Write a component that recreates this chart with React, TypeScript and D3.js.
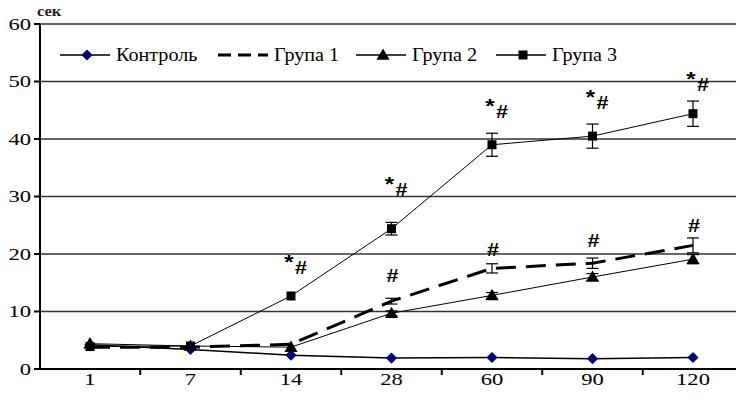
import { useEffect, useRef } from "react";
import * as d3 from "d3";

const days = ["1", "7", "14", "28", "60", "90", "120"];
const yTicks = [0, 10, 20, 30, 40, 50, 60];

const control = [4.2, 3.4, 2.4, 1.9, 2.0, 1.8, 2.0];
const group1 = [3.8, 3.8, 4.3, 11.8, 17.5, 18.4, 21.5];
const group1Err = [0, 0, 0, 0.5, 0.8, 0.9, 1.3];
const group2 = [4.4, 4.0, 3.8, 9.7, 12.8, 16.0, 19.1];
const group2Err = [0, 0, 0, 0.4, 0.5, 0.6, 0.8];
const group3 = [3.9, 4.0, 12.7, 24.4, 39.0, 40.5, 44.4];
const group3Err = [0, 0, 0, 1.1, 2.0, 2.1, 2.2];

// significance marks: "*#" over group 3, "#" over group 1 (label height in seconds)
const starHashDays = ["14", "28", "60", "90", "120"];
const starHashY = [17.6, 31.1, 44.7, 46.3, 49.4];
const hashDays = ["28", "60", "90", "120"];
const hashY = [16.3, 20.7, 22.4, 25.0];

const legendNames = ["Контроль", "Група 1", "Група 2", "Група 3"];

type Marker = "diamond" | "none" | "triangle" | "square";

interface Series {
  values: number[];
  err: number[] | null;
  marker: Marker;
  width: number;
  dash: string | null;
}

const series: Series[] = [
  { values: control, err: null, marker: "diamond", width: 1.5, dash: null },
  { values: group1, err: group1Err, marker: "none", width: 3, dash: "20,10" },
  { values: group2, err: group2Err, marker: "triangle", width: 1, dash: null },
  { values: group3, err: group3Err, marker: "square", width: 1, dash: null },
];

const serif = "'Liberation Serif', 'Times New Roman', serif";
const markFont = "'Liberation Sans', Arial, sans-serif";

type G = d3.Selection<SVGGElement, unknown, null, undefined>;

// the source picture is stretched sideways, so text gets a horizontal scale
function wideText(g: G, x: number, y: number, str: string, size: number, sx: number, anchor = "start") {
  return g
    .append("text")
    .attr("transform", `translate(${x},${y}) scale(${sx},1)`)
    .attr("dy", "0.35em")
    .attr("text-anchor", anchor)
    .attr("font-family", serif)
    .attr("font-size", size)
    .text(str);
}

function drawMarker(g: G, m: Marker, x: number, y: number) {
  if (m === "diamond") {
    g.append("path")
      .attr("d", d3.symbol(d3.symbolDiamond2, 80)())
      .attr("transform", `translate(${x},${y})`)
      .attr("fill", "#000080");
  } else if (m === "triangle") {
    g.append("path")
      .attr("d", d3.symbol(d3.symbolTriangle, 75)())
      .attr("transform", `translate(${x},${y + 1})`)
      .attr("fill", "#000");
  } else if (m === "square") {
    g.append("rect")
      .attr("x", x - 4.5)
      .attr("y", y - 4.5)
      .attr("width", 9)
      .attr("height", 9)
      .attr("fill", "#000");
  }
}

export default function App() {
  const ref = useRef<SVGSVGElement | null>(null);

  useEffect(() => {
    if (!ref.current) return;
    const width = 736;
    const height = 409;
    const svg = d3.select(ref.current);
    svg.selectAll("*").remove();

    const x = d3.scalePoint<string>().domain(days).range([90, 693]);
    const step = x.step();
    const y = d3.scaleLinear().domain([0, 60]).range([369, 24]);
    const left = 40;

    const root = svg.append("g");

    // gridlines
    root
      .selectAll("line.grid")
      .data(yTicks.filter((t) => t > 0))
      .join("line")
      .attr("x1", left)
      .attr("x2", width)
      .attr("y1", (d) => y(d))
      .attr("y2", (d) => y(d))
      .attr("stroke", "#333")
      .attr("stroke-width", 1.5);

    // y axis
    root.append("line").attr("x1", left).attr("x2", left).attr("y1", y(60)).attr("y2", y(0))
      .attr("stroke", "#000").attr("stroke-width", 2);
    root.selectAll("line.ytick").data(yTicks).join("line")
      .attr("x1", left - 6).attr("x2", left).attr("y1", (d) => y(d)).attr("y2", (d) => y(d))
      .attr("stroke", "#000").attr("stroke-width", 2);
    yTicks.forEach((t) => wideText(root, 31, y(t), String(t), 17, 1.33, "end"));
    root.append("text").attr("transform", "translate(37,16) scale(1.1,1)").attr("font-family", serif)
      .attr("font-size", 15).attr("font-weight", "bold").attr("fill", "#222").text("сек");

    // x axis
    root.append("line").attr("x1", left - 6).attr("x2", width).attr("y1", y(0)).attr("y2", y(0))
      .attr("stroke", "#000").attr("stroke-width", 2);
    root.selectAll("line.xtick").data(days).join("line")
      .attr("x1", (d) => (x(d) ?? 0) + step / 2).attr("x2", (d) => (x(d) ?? 0) + step / 2)
      .attr("y1", y(0)).attr("y2", y(0) + 6)
      .attr("stroke", "#000").attr("stroke-width", 2);
    days.forEach((d) => wideText(root, x(d) ?? 0, 379, d, 17, 1.33, "middle"));

    const line = d3.line<number>().x((_, i) => x(days[i]) ?? 0).y((d) => y(d));

    for (const s of series) {
      const g = root.append("g");
      g.append("path").attr("d", line(s.values)).attr("fill", "none")
        .attr("stroke", "#000").attr("stroke-width", s.width)
        .attr("stroke-dasharray", s.dash);
      if (s.err) {
        s.values.forEach((v, i) => {
          const e = s.err![i];
          if (!e) return;
          const cx = x(days[i]) ?? 0;
          const eb = g.append("g").attr("stroke", "#000").attr("stroke-width", 1.2);
          eb.append("line").attr("x1", cx).attr("x2", cx).attr("y1", y(v + e)).attr("y2", y(v - e));
          eb.append("line").attr("x1", cx - 6).attr("x2", cx + 6).attr("y1", y(v + e)).attr("y2", y(v + e));
          eb.append("line").attr("x1", cx - 6).attr("x2", cx + 6).attr("y1", y(v - e)).attr("y2", y(v - e));
        });
      }
      s.values.forEach((v, i) => drawMarker(g, s.marker, x(days[i]) ?? 0, y(v)));
    }

    // significance labels
    starHashDays.forEach((d, i) => {
      const cx = x(d) ?? 0;
      const cy = y(starHashY[i]);
      root.append("text").attr("transform", `translate(${cx - 2},${cy + 1}) scale(1.2,1)`)
        .attr("text-anchor", "middle")
        .attr("font-family", markFont).attr("font-weight", "bold").attr("font-size", 20).text("*");
      root.append("text").attr("transform", `translate(${cx + 10},${cy}) scale(1.2,1)`)
        .attr("dy", "0.35em").attr("text-anchor", "middle")
        .attr("font-family", markFont).attr("font-weight", "bold").attr("font-size", 18).text("#");
    });
    hashDays.forEach((d, i) => {
      root.append("text").attr("transform", `translate(${(x(d) ?? 0) + 1},${y(hashY[i])}) scale(1.2,1)`)
        .attr("dy", "0.35em")
        .attr("text-anchor", "middle").attr("font-family", markFont).attr("font-weight", "bold")
        .attr("font-size", 18).text("#");
    });

    // legend
    const legendX = [60, 218, 356, 496];
    const ly = 55;
    legendNames.forEach((name, i) => {
      const s = series[i];
      const g = root.append("g");
      const x0 = legendX[i];
      g.append("line").attr("x1", x0).attr("x2", x0 + 50).attr("y1", ly).attr("y2", ly)
        .attr("stroke", "#000").attr("stroke-width", s.dash ? 3 : 1.5)
        .attr("stroke-dasharray", s.dash ? "13,7" : null);
      drawMarker(g, s.marker, x0 + 27, ly);
      wideText(g, x0 + 56, ly, name, 18, 1.12);
    });

    svg.attr("width", width).attr("height", height);
  }, []);

  return (
    <svg
      ref={ref}
      width={736}
      height={409}
      style={{ position: "absolute", left: 0, top: 0, background: "#fff" }}
    />
  );
}
